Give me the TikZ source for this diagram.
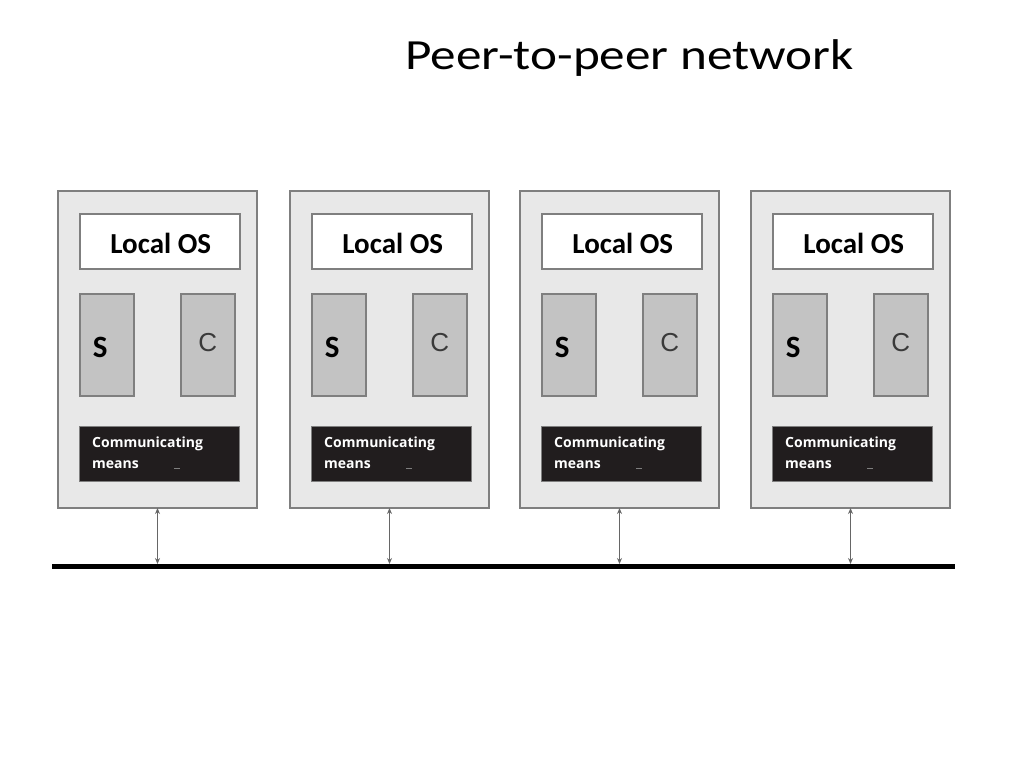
\documentclass[tikz,border=0pt]{standalone}
\usepackage{fontspec}
\setmainfont{Carlito}
\newfontfamily\arialfont{Liberation Sans}
\newfontfamily\commfont{Open Sans}
\usetikzlibrary{arrows.meta}
\definecolor{outerfill}{HTML}{E8E8E8}
\definecolor{edgegrey}{HTML}{7F7F7F}
\definecolor{midgrey}{HTML}{C3C3C3}
\definecolor{darkbox}{HTML}{211D1E}
\definecolor{ctext}{HTML}{3A3A3A}
\tikzset{
  peerbox/.style={draw=edgegrey, line width=1.8pt, fill=outerfill, minimum width=199pt, minimum height=317pt, inner sep=0pt, outer sep=0pt, anchor=north west},
  osbox/.style={draw=edgegrey, line width=1.5pt, fill=white, minimum width=160pt, minimum height=55pt, inner sep=0pt, anchor=north west},
  ostext/.style={font=\fontsize{29}{32}\selectfont\bfseries, inner sep=0pt},
  procbox/.style={draw=edgegrey, line width=1.5pt, fill=midgrey, minimum width=54pt, minimum height=102pt, inner sep=0pt, anchor=north west},
  commbox/.style={draw=edgegrey, line width=0.8pt, fill=darkbox, minimum width=160pt, minimum height=55pt, inner sep=0pt, anchor=north west},
  commtext/.style={text=white, font=\commfont\fontsize{14}{21}\selectfont\bfseries, align=left, anchor=north west, inner sep=0pt},
  link/.style={draw=edgegrey!80!black, line width=1pt, {Stealth[length=6pt,width=5pt]}-{Stealth[length=6pt,width=5pt]}},
}
\begin{document}
\begin{tikzpicture}[x=1pt,y=-1pt]
\useasboundingbox (0,0) rectangle (1024,768);
\node[font=\fontsize{43}{46}\selectfont, xscale=1.19, anchor=base, inner sep=0pt] (title) at (629.5,70) {Peer-to-peer network};
\node[fill=black, minimum width=903pt, minimum height=5pt, inner sep=0pt, outer sep=0pt] (bus) at (503.5,566.5) {};
\foreach \i/\x in {1/58,2/290,3/520,4/751}{
  \node[peerbox] (b\i) at (\x,191) {};
  \node[osbox] (os\i) at (\x+21,213) {};
  \node[ostext] (ol\i) at ([xshift=1pt,yshift=-2pt]os\i.center) {Local OS};
  \node[procbox] (s\i) at (\x+21,293) {};
  \node[procbox] (c\i) at (\x+122,293) {};
  \node[font=\fontsize{31}{34}\selectfont\bfseries, inner sep=0pt] (sl\i) at ([xshift=-6.5pt,yshift=-3pt]s\i.center) {S};
  \node[font=\arialfont\fontsize{26}{28}\selectfont, text=ctext, inner sep=0pt] (cl\i) at ([yshift=2pt]c\i.center) {C};
  \node[commbox] (cm\i) at (\x+21,426) {};
  \node[commtext] (ct\i) at (\x+34,437) {Communicating\\means};
  \coordinate (d\i) at (\x+116,468);
  \draw[edgegrey, line width=0.7pt] (d\i) -- ++(6,0);
  \draw[link] (b\i.south) -- (b\i.south |- bus.north);
}
\end{tikzpicture}
\end{document}
